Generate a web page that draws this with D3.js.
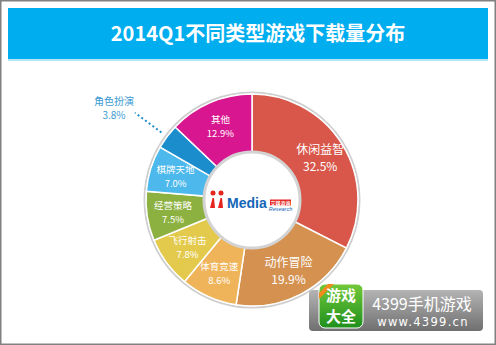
<!DOCTYPE html>
<html>
<head>
<meta charset="utf-8">
<script src="https://cdn.jsdelivr.net/npm/d3@7"></script>
<style>
  body { margin: 0; background: #fff; }
  svg { display: block; font-family: "Noto Sans CJK SC", "Microsoft YaHei", sans-serif; }
</style>
</head>
<body>
<div id="chart"></div>
<script>
// chart data
const title = "2014Q1不同类型游戏下载量分布";
const categories = ["休闲益智", "动作冒险", "体育竞速", "飞行射击", "经营策略", "棋牌天地", "角色扮演", "其他"];
const shares = [32.5, 19.9, 8.6, 7.8, 7.5, 7.0, 3.8, 12.9];
const colors = ["#d8574a", "#d4914f", "#efb459", "#e4ca4c", "#8db141", "#4cb8eb", "#1b8dcd", "#d8168f"];
const outsideLabels = ["角色扮演"]; // too small for text inside

const width = 496, height = 345;
const cx = 252, cy = 200;
const outerR = 106, innerR = 48;

const svg = d3.select("#chart").append("svg")
    .attr("width", width)
    .attr("height", height);

// frame
svg.append("rect").attr("x", 0.75).attr("y", 0.75)
    .attr("width", width - 1.5).attr("height", height - 1.5)
    .attr("fill", "#fff").attr("stroke", "#808080").attr("stroke-width", 1.5);

// title bar
svg.append("rect").attr("x", 8).attr("y", 8).attr("width", 480).attr("height", 52).attr("fill", "#00aeef");
svg.append("rect").attr("x", 8).attr("y", 59).attr("width", 480).attr("height", 2).attr("fill", "#b7e6f8");
svg.append("text")
    .attr("x", 258).attr("y", 41)
    .attr("text-anchor", "middle")
    .attr("fill", "#fff")
    .attr("font-size", 20)
    .attr("font-weight", "bold")
    .text(title);

const data = categories.map((c, i) => ({ name: c, value: shares[i], color: colors[i] }));

const pie = d3.pie().value(d => d.value).sort(null);
const arc = d3.arc().innerRadius(innerR).outerRadius(outerR);
const labelArc = d3.arc().innerRadius(80).outerRadius(80);

const g = svg.append("g").attr("transform", "translate(" + cx + "," + cy + ")");

// soft outer ring
g.append("circle").attr("r", outerR + 1.5).attr("fill", "none").attr("stroke", "#cfcfcf").attr("stroke-width", 2);

const arcs = pie(data);

g.selectAll("path.slice")
    .data(arcs)
    .enter().append("path")
    .attr("class", "slice")
    .attr("d", arc)
    .attr("fill", d => d.data.color)
    .attr("stroke", "#fff")
    .attr("stroke-width", 1.5);

// inner white disc
g.append("circle").attr("r", innerR).attr("fill", "#fff").attr("stroke", "#d3d3d3").attr("stroke-width", 3);

// labels inside slices
const big = d => d.data.value > 15;
const inside = g.selectAll("g.lbl")
    .data(arcs.filter(d => outsideLabels.indexOf(d.data.name) < 0))
    .enter().append("g")
    .attr("class", "lbl")
    .attr("transform", d => "translate(" + labelArc.centroid(d) + ")");

inside.append("text")
    .attr("text-anchor", "middle")
    .attr("y", d => big(d) ? -4 : -3)
    .attr("fill", "#fff")
    .attr("font-size", d => big(d) ? 12 : 9.5)
    .text(d => d.data.name);

inside.append("text")
    .attr("text-anchor", "middle")
    .attr("y", d => big(d) ? 12.5 : 10.5)
    .attr("fill", "#fff")
    .attr("font-size", d => big(d) ? 12 : 9.5)
    .text(d => d3.format(".1f")(d.data.value) + "%");

// outside label with dotted leader
const lineIn = d3.arc().innerRadius(113).outerRadius(113);
const lineOut = d3.arc().innerRadius(146).outerRadius(146);
arcs.filter(d => outsideLabels.indexOf(d.data.name) >= 0).forEach(d => {
    const p1 = lineIn.centroid(d), p2 = lineOut.centroid(d);
    g.append("line")
        .attr("x1", p1[0]).attr("y1", p1[1])
        .attr("x2", p2[0]).attr("y2", p2[1])
        .attr("stroke", d.data.color)
        .attr("stroke-width", 2)
        .attr("stroke-dasharray", "2,2.6");
    g.append("text")
        .attr("x", p2[0] - 21).attr("y", p2[1] - 8)
        .attr("text-anchor", "middle").attr("fill", "#3a9ad2").attr("font-size", 10)
        .text(d.data.name);
    g.append("text")
        .attr("x", p2[0] - 21).attr("y", p2[1] + 6)
        .attr("text-anchor", "middle").attr("fill", "#3a9ad2").attr("font-size", 10)
        .text(d3.format(".1f")(d.data.value) + "%");
});

// iiMedia logo in the centre
const logo = g.append("g").attr("transform", "translate(-42,0)");
[1, 9].forEach(x => {
    logo.append("circle").attr("cx", x + 2).attr("cy", -7).attr("r", 2.5).attr("fill", "#e52420");
    logo.append("path")
        .attr("d", "M" + (x - 1) + ",8 L" + (x + 1.5) + ",-2 L" + (x + 3) + ",-2 L" + (x + 4) + ",8 Z")
        .attr("fill", "#e52420");
});
logo.append("text").attr("x", 17).attr("y", 8)
    .attr("font-family", "Arial, 'Liberation Sans', sans-serif")
    .attr("font-weight", "bold").attr("font-size", 14).attr("fill", "#1466b8")
    .text("Media");
logo.append("rect").attr("x", 60).attr("y", -0.5).attr("width", 21).attr("height", 6).attr("fill", "#e52420");
logo.append("text").attr("x", 70.5).attr("y", 4.5).attr("text-anchor", "middle")
    .attr("font-size", 5).attr("font-weight", "bold").attr("fill", "#fff").text("艾媒咨询");
logo.append("text").attr("x", 70.5).attr("y", 10.5).attr("text-anchor", "middle")
    .attr("font-family", "Arial, 'Liberation Sans', sans-serif")
    .attr("font-style", "italic").attr("font-size", 5.5).attr("fill", "#1466b8").text("Research");

// 4399 badge, bottom right
const defs = svg.append("defs");
const gray = defs.append("linearGradient").attr("id", "grayGrad").attr("x1", 0).attr("y1", 0).attr("x2", 0).attr("y2", 1);
gray.append("stop").attr("offset", "0%").attr("stop-color", "#b4b4b4");
gray.append("stop").attr("offset", "100%").attr("stop-color", "#6f6f6f");
const green = defs.append("linearGradient").attr("id", "greenGrad").attr("x1", 0).attr("y1", 0).attr("x2", 0).attr("y2", 1);
green.append("stop").attr("offset", "0%").attr("stop-color", "#72c93a");
green.append("stop").attr("offset", "100%").attr("stop-color", "#1f8f1d");

const badge = svg.append("g");
badge.append("rect").attr("x", 309).attr("y", 290).attr("width", 174).attr("height", 41).attr("rx", 4)
    .attr("fill", "url(#grayGrad)");
badge.append("rect").attr("x", 319).attr("y", 284).attr("width", 44).attr("height", 44).attr("rx", 6)
    .attr("fill", "url(#greenGrad)").attr("stroke", "#fff").attr("stroke-width", 1);
badge.append("path").attr("d", "M319,293 L328,284 L334,284 L319,299 Z").attr("fill", "#f08a1c");
badge.append("text").attr("x", 341).attr("y", 301).attr("text-anchor", "middle")
    .attr("font-size", 15).attr("font-weight", "bold").attr("fill", "#fff").text("游戏");
badge.append("text").attr("x", 341).attr("y", 322).attr("text-anchor", "middle")
    .attr("font-size", 15).attr("font-weight", "bold").attr("fill", "#fff").text("大全");
badge.append("text").attr("x", 422).attr("y", 310).attr("text-anchor", "middle")
    .attr("font-size", 16).attr("fill", "#fff").text("4399手机游戏");
badge.append("text").attr("x", 423).attr("y", 326).attr("text-anchor", "middle")
    .attr("font-family", "'DejaVu Sans', sans-serif")
    .attr("font-size", 11.5).attr("letter-spacing", 1.3).attr("fill", "#fff").text("www.4399.cn");
</script>
</body>
</html>
